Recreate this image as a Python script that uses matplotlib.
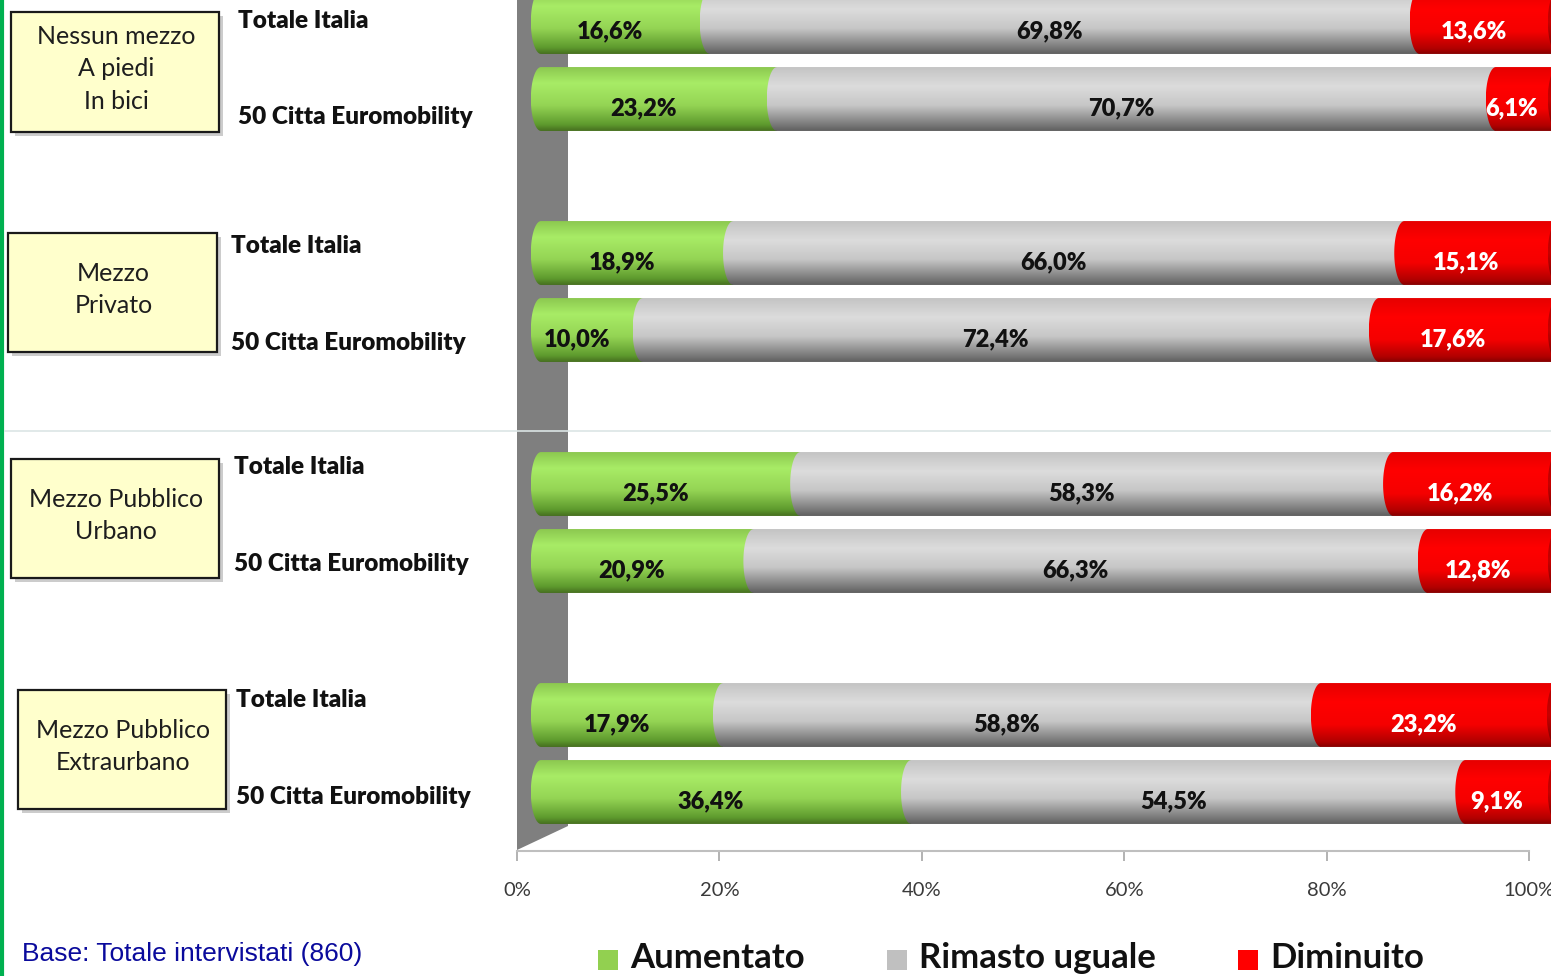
import numpy as np
import matplotlib.pyplot as plt
from matplotlib.colors import LinearSegmentedColormap
from matplotlib.patches import Rectangle, PathPatch, Polygon, Ellipse
from matplotlib.path import Path

plt.rcParams['font.family'] = ['Lato', 'DejaVu Sans']

# data
groups = ['Nessun mezzo\nA piedi\nIn bici', 'Mezzo\nPrivato',
          'Mezzo Pubblico\nUrbano', 'Mezzo Pubblico\nExtraurbano']
rows = ['Totale Italia', '50 Citta Euromobility']
aumentato = [16.6, 23.2, 18.9, 10.0, 25.5, 20.9, 17.9, 36.4]
uguale = [69.8, 70.7, 66.0, 72.4, 58.3, 66.3, 58.8, 54.5]
diminuito = [13.6, 6.1, 15.1, 17.6, 16.2, 12.8, 23.2, 9.1]
series_names = ['Aumentato', 'Rimasto uguale', 'Diminuito']
ticks = [0, 20, 40, 60, 80, 100]

W, H = 1551, 976
fig = plt.figure(figsize=(W / 100, H / 100), dpi=100)

# background layer in pixel units
bg = fig.add_axes([0, 0, 1, 1])
bg.set_xlim(0, W)
bg.set_ylim(H, 0)
bg.axis('off')

bg.plot([1.5, 1.5], [0, H], color='#00b050', lw=3)
bg.plot([5, W], [431, 431], color='#dbe5e5', lw=1.2, zorder=3)
bg.add_patch(Polygon([(517, 0), (568, 0), (568, 826), (517, 850)], closed=True,
                     facecolor='#7f7f7f', edgecolor='none', zorder=2))

# category boxes
boxes = [(11, 12, 208, 120), (8, 233, 209, 119), (11, 459, 208, 119), (18, 690, 208, 119)]
row_x = [238, 231, 234, 236]
row_y = [(21, 117), (246, 343), (467, 564), (700, 797)]
for g, (bx, by, bw, bh) in enumerate(boxes):
    bg.add_patch(Rectangle((bx + 4, by + 4), bw, bh, facecolor='#9a9a9a', alpha=0.5,
                           edgecolor='none'))
    bg.add_patch(Rectangle((bx, by), bw, bh, facecolor='#ffffcc', edgecolor='#1a1a1a', lw=1.6))
    bg.text(bx + bw / 2 + 1, by + bh / 2 - 3, groups[g], ha='center', va='center',
            fontsize=18, color='#1e1e1e', linespacing=1.5)
    for r in range(2):
        bg.text(row_x[g], row_y[g][r], rows[r], ha='left', va='center', fontsize=17.5,
                fontweight='heavy', color='#111111')

# bottom axis (ticks)
axt = fig.add_axes([517 / W, (H - 851) / H, (1529 - 517) / W, 0.0001])
axt.set_xlim(0, 100)
axt.set_xticks(ticks)
axt.set_xticklabels([f'{t}%' for t in ticks])
axt.set_yticks([])
for s in ['top', 'left', 'right']:
    axt.spines[s].set_visible(False)
axt.spines['bottom'].set_color('#bfbfbf')
axt.spines['bottom'].set_linewidth(1.5)
axt.tick_params(axis='x', length=7, width=1.2, color='#a6a6a6', pad=15,
                labelsize=14.5, labelcolor='#3a3a3a')
axt.patch.set_visible(False)

# bars
ax = fig.add_axes([517 / W, (H - 850) / H, (W - 517) / W, 850 / H])
ax.patch.set_visible(False)
ax.axis('off')

cmaps = [
    LinearSegmentedColormap.from_list('g', [(0, '#8cc850'), (0.25, '#a8ec66'), (0.6, '#94d454'),
                                            (0.9, '#5e9a2e'), (1, '#466f1f')]),
    LinearSegmentedColormap.from_list('s', [(0, '#c4c4c4'), (0.3, '#dcdcdc'), (0.6, '#c6c6c6'),
                                            (0.9, '#7a7a7a'), (1, '#5e5e5e')]),
    LinearSegmentedColormap.from_list('r', [(0, '#e60000'), (0.3, '#ff0000'), (0.65, '#f50000'),
                                            (0.92, '#b00000'), (1, '#850000')]),
]
end_cmap = LinearSegmentedColormap.from_list('e', [(0, '#b00000'), (0.5, '#c80000'), (1, '#700000')])
legend_cols = ['#92d050', '#c0c0c0', '#ff0000']
txt_cols = ['#111111', '#111111', 'white']

hh = 0.415
cw = 1.0
grad = np.linspace(0, 1, 256).reshape(-1, 1)
theta = np.linspace(np.pi / 2, 3 * np.pi / 2, 40)

for i in range(len(aumentato)):
    c = (i // 2) * 3 + (i % 2)
    vals = [aumentato[i], uguale[i], diminuito[i]]
    left = 0
    for k, v in enumerate(vals):
        x0, x1 = left, left + v
        verts = [(x0 + cw * np.cos(t), c + hh * np.sin(t)) for t in theta]
        verts += [(x1, c - hh), (x1, c + hh), verts[0]]
        p = PathPatch(Path(verts), facecolor='none', edgecolor='none')
        ax.add_patch(p)
        im = ax.imshow(grad, cmap=cmaps[k], extent=[x0 - cw, x1, c + hh, c - hh],
                       aspect='auto', origin='upper', zorder=2 + k)
        im.set_clip_path(p)
        lab = f'{v:.1f}'.replace('.', ',') + '%'
        ax.text(x0 + v / 2 - 1.5, c + 0.12, lab, ha='center', va='center', fontsize=17,
                fontweight='heavy', color=txt_cols[k], zorder=10)
        left = x1
    e = Ellipse((left, c), 2 * cw, 2 * hh, facecolor='none', edgecolor='none')
    ax.add_patch(e)
    im = ax.imshow(grad, cmap=end_cmap, extent=[left - cw, left + cw, c + hh, c - hh],
                   aspect='auto', origin='upper', zorder=6)
    im.set_clip_path(e)

ax.set_xlim((517 - 541) / 10.17, (W - 541) / 10.17)
ax.set_ylim((850 - 22) / 77, -22 / 77)

# legend
leg_sq = [598, 887, 1238]
for k in range(3):
    bg.add_patch(Rectangle((leg_sq[k], 950), 20, 20, facecolor=legend_cols[k], edgecolor='none'))
    bg.text(leg_sq[k] + 32, 958, series_names[k], ha='left', va='center', fontsize=25,
            fontweight='bold', color='#111111')

bg.text(22, 954, 'Base: Totale intervistati (860)', ha='left', va='center',
        family='Liberation Sans', fontsize=19, color='#0a0a9c')

fig.savefig('out.png', dpi=100)
